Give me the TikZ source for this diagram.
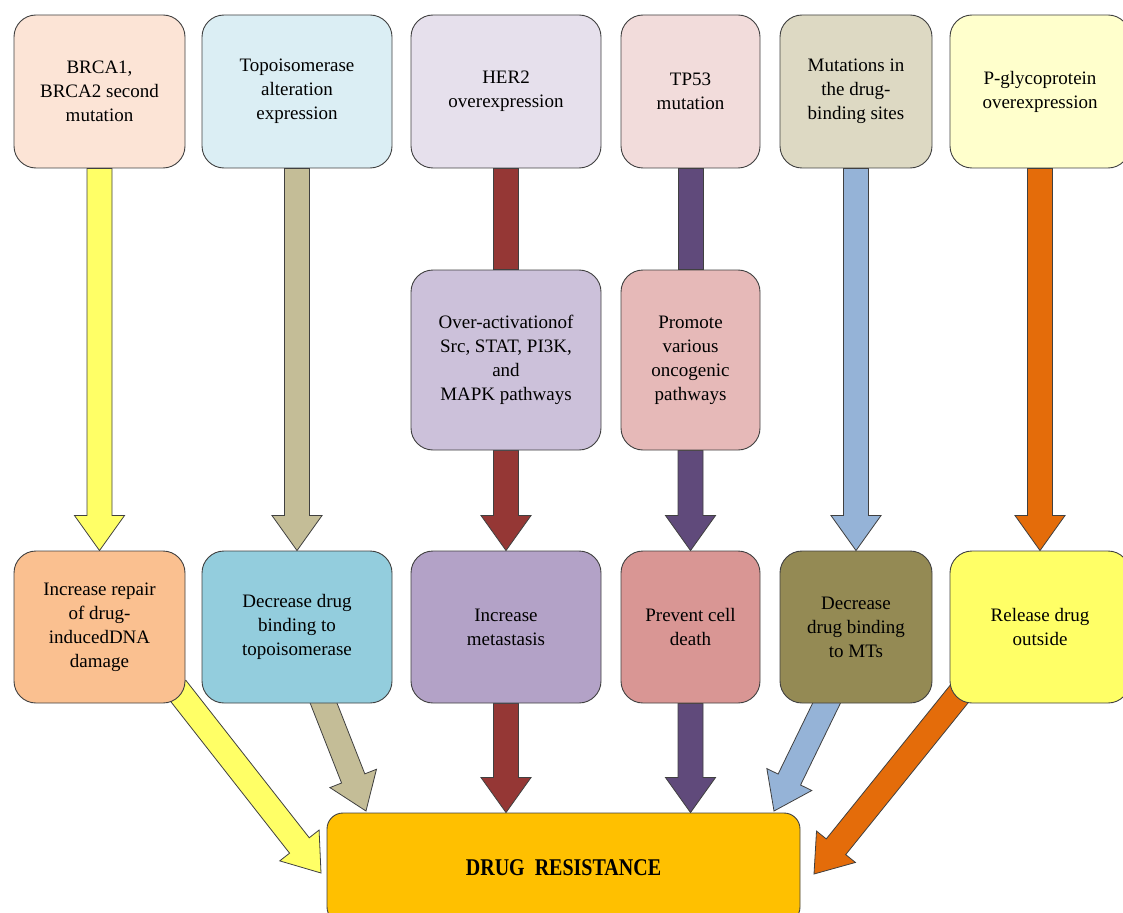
\documentclass[tikz,border=0pt]{standalone}
\usepackage{fontspec}
\setmainfont{Liberation Serif}
\usetikzlibrary{calc,backgrounds}

\definecolor{brcaA}{HTML}{FCE4D6}
\definecolor{brcaB}{HTML}{FAC090}
\definecolor{topoA}{HTML}{DBEEF4}
\definecolor{topoB}{HTML}{93CDDD}
\definecolor{herA}{HTML}{E6E0EC}
\definecolor{herB}{HTML}{CCC1DA}
\definecolor{herC}{HTML}{B3A2C7}
\definecolor{tpA}{HTML}{F2DCDB}
\definecolor{tpB}{HTML}{E6B9B8}
\definecolor{tpC}{HTML}{D99694}
\definecolor{mutA}{HTML}{DDD9C3}
\definecolor{mutB}{HTML}{948A54}
\definecolor{pgpA}{HTML}{FFFFCC}
\definecolor{pgpB}{HTML}{FFFF66}
\definecolor{drugfill}{HTML}{FFC000}
\definecolor{arrA}{HTML}{FFFF66}
\definecolor{arrB}{HTML}{C4BD97}
\definecolor{arrC}{HTML}{953735}
\definecolor{arrD}{HTML}{604A7B}
\definecolor{arrE}{HTML}{95B3D7}
\definecolor{arrF}{HTML}{E46C0A}

\tikzset{
  box/.style={draw=black!75,line width=0.9pt,rounded corners=22pt,align=center,
    font=\fontsize{19}{24}\selectfont,inner sep=2pt},
  topbox/.style={box,minimum height=153pt},
  midbox/.style={box,minimum height=180pt},
  botbox/.style={box,minimum height=152pt},
  shaft/.style={draw=black!75,line width=0.8pt},
}

% block arrow: shaft 25, head 50 wide and 35 long
\newcommand{\blockarrow}[3][]{%
  \coordinate (ba-c) at ($(#3)!35pt!(#2)$);
  \draw[shaft,#1] ($(#2)!12.5pt!90:(#3)$) -- ($(ba-c)!12.5pt!-90:(#2)$)
    -- ($(ba-c)!25pt!-90:(#2)$) -- (#3) -- ($(ba-c)!25pt!90:(#2)$)
    -- ($(ba-c)!12.5pt!90:(#2)$) -- ($(#2)!12.5pt!-90:(#3)$) -- cycle;
}

\begin{document}
\begin{tikzpicture}[x=1pt,y=-1pt]
  \useasboundingbox (0,0) rectangle (1123,912);

  \node[topbox,fill=brcaA,minimum width=171pt] (top1) at (99.5,91.5) {BRCA1,\\BRCA2 second\\mutation};
  \node[topbox,fill=topoA,minimum width=190pt] (top2) at (297,91.5) {Topoisomerase\\alteration\\expression};
  \node[topbox,fill=herA,minimum width=190pt] (top3) at (506,91.5) {HER2\\overexpression};
  \node[topbox,fill=tpA,minimum width=139pt] (top4) at (690.5,91.5) {TP53\\mutation};
  \node[topbox,fill=mutA,minimum width=152pt] (top5) at (856,91.5) {Mutations in\\the drug-\\binding sites};
  \node[topbox,fill=pgpA,minimum width=180pt] (top6) at (1040,91.5) {P-glycoprotein\\overexpression};

  \node[midbox,fill=herB,minimum width=190pt] (mid3) at (506,360) {Over-activationof\\Src, STAT, PI3K,\\and\\MAPK pathways};
  \node[midbox,fill=tpB,minimum width=139pt] (mid4) at (690.5,360) {Promote\\various\\oncogenic\\pathways};

  \node[botbox,fill=brcaB,minimum width=171pt] (bot1) at (99.5,627) {Increase repair\\of drug-\\inducedDNA\\damage};
  \node[botbox,fill=topoB,minimum width=190pt] (bot2) at (297,627) {Decrease drug\\binding to\\topoisomerase};
  \node[botbox,fill=herC,minimum width=190pt] (bot3) at (506,627) {Increase\\metastasis};
  \node[botbox,fill=tpC,minimum width=139pt] (bot4) at (690.5,627) {Prevent cell\\death};
  \node[botbox,fill=mutB,minimum width=152pt] (bot5) at (856,627) {Decrease\\drug binding\\to MTs};
  \node[botbox,fill=pgpB,minimum width=180pt] (bot6) at (1040,627) {Release drug\\outside};

  \node[box,fill=drugfill,rounded corners=16pt,minimum width=473pt,minimum height=110pt] (drug) at (563.5,868)
    {\scalebox{1}[1.2]{\fontsize{20}{24}\selectfont\bfseries DRUG\ \ RESISTANCE}};

  \coordinate (yel-s) at (176,688);
  \coordinate (yel-t) at (321,873);
  \coordinate (tan-s) at (320,694);
  \coordinate (tan-t) at (366,811);
  \coordinate (blu-s) at (831,694);
  \coordinate (blu-t) at (774,811);
  \coordinate (ora-s) at (964,688);
  \coordinate (ora-t) at (814,874);

  \begin{scope}[on background layer]
    \blockarrow[fill=arrA]{top1.south}{bot1.north}
    \blockarrow[fill=arrB]{top2.south}{bot2.north}
    \draw[shaft,fill=arrC] ($(top3.south)+(-12.5,0)$) rectangle ($(mid3.north)+(12.5,0)$);
    \blockarrow[fill=arrC]{mid3.south}{bot3.north}
    \draw[shaft,fill=arrD] ($(top4.south)+(-12.5,0)$) rectangle ($(mid4.north)+(12.5,0)$);
    \blockarrow[fill=arrD]{mid4.south}{bot4.north}
    \blockarrow[fill=arrE]{top5.south}{bot5.north}
    \blockarrow[fill=arrF]{top6.south}{bot6.north}

    \blockarrow[fill=arrA]{yel-s}{yel-t}
    \blockarrow[fill=arrB]{tan-s}{tan-t}
    \blockarrow[fill=arrC]{bot3.south}{bot3.south |- drug.north}
    \blockarrow[fill=arrD]{bot4.south}{bot4.south |- drug.north}
    \blockarrow[fill=arrE]{blu-s}{blu-t}
    \blockarrow[fill=arrF]{ora-s}{ora-t}
  \end{scope}
\end{tikzpicture}
\end{document}
